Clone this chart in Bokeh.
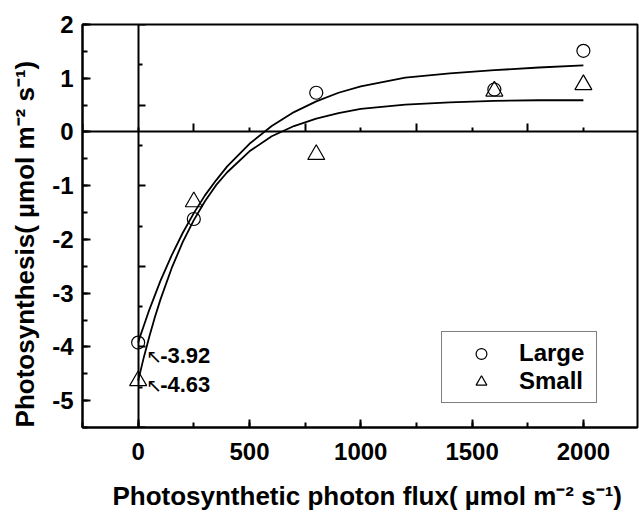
from bokeh.plotting import figure
from bokeh.models import (LinearAxis, FixedTicker, SingleIntervalTicker, Range1d,
                          Legend, LegendItem)
from bokeh.core.properties import value
from bokeh.embed import file_html
from bokeh.resources import INLINE

# ---- data ----
ppfd = [0, 250, 800, 1600, 2000]
large = [-3.92, -1.62, 0.73, 0.79, 1.51]
small = [-4.63, -1.30, -0.42, 0.76, 0.88]

fit_x = [0, 10, 25, 50, 75, 100, 150, 200, 250, 300, 350, 400, 500, 600,
         700, 800, 900, 1000, 1200, 1400, 1600, 1800, 2000]
large_fit = [-3.92, -3.79, -3.61, -3.31, -3.04, -2.77, -2.30, -1.88, -1.51,
             -1.18, -0.90, -0.64, -0.22, 0.11, 0.37, 0.57, 0.73, 0.85, 1.01,
             1.09, 1.15, 1.20, 1.24]
small_fit = [-4.63, -4.46, -4.20, -3.81, -3.45, -3.12, -2.54, -2.05, -1.64,
             -1.29, -0.99, -0.75, -0.36, -0.08, 0.11, 0.25, 0.35, 0.43, 0.51,
             0.55, 0.58, 0.59, 0.59]

ann_values = [-3.92, -4.63]
ann_labels = ["-3.92", "-4.63"]

y_ticks = [2, 1, 0, -1, -2, -3, -4, -5]
y_tick_labels = ["2", "1", "0", "-1", "-2", "-3", "-4", "-5"]

zero_y_major = [2, 0.5, -1, -2.5, -4, -5.5]
zero_y_minor = [1.25, -0.25, -1.75, -3.25, -4.75]
zero_x_major = [-250, 250, 750, 1250, 1750, 2250]
zero_x_minor = [0, 500, 1000, 1500, 2000]

x_title = "Photosynthetic photon flux( µmol m⁻² s⁻¹)"
y_title = "Photosynthesis( µmol m⁻² s⁻¹)"

FONT = "Liberation Sans"
NB = "\u00a0"

p = figure(width=639, height=513, x_range=Range1d(-250, 2243), y_range=Range1d(-5.5, 2),
           output_backend="svg", toolbar_location=None,
           min_border_left=82, min_border_right=2, min_border_top=24, min_border_bottom=82)
p.xgrid.visible = False
p.ygrid.visible = False
p.outline_line_color = "black"
p.outline_line_width = 2
p.background_fill_color = "white"
p.border_fill_color = "white"

p.xaxis.ticker = SingleIntervalTicker(interval=500, num_minor_ticks=2)
p.yaxis.ticker = SingleIntervalTicker(interval=1, num_minor_ticks=2)
p.yaxis.major_label_overrides = {float(t): s for t, s in zip(y_ticks, y_tick_labels)}
for ax in (p.xaxis[0], p.yaxis[0]):
    ax.axis_line_width = 2
    ax.axis_line_color = "black"
    ax.major_tick_in = 8
    ax.major_tick_out = 0
    ax.minor_tick_in = 5
    ax.minor_tick_out = 0
    ax.major_tick_line_width = 2
    ax.minor_tick_line_width = 2
    ax.major_label_text_font = FONT
    ax.major_label_text_font_style = "bold"
    ax.major_label_text_font_size = "24px"
    ax.major_label_text_color = "black"
    ax.axis_label_text_font = FONT
    ax.axis_label_text_font_style = "bold"
    ax.axis_label_text_font_size = "26px"
    ax.axis_label_text_color = "black"

p.xaxis.axis_label = NB * 2 + x_title
p.yaxis.axis_label = y_title + NB * 5
p.xaxis.major_label_standoff = 15
p.yaxis.major_label_standoff = 9
p.xaxis.axis_label_standoff = 18
p.yaxis.axis_label_standoff = 9

# zero lines with their own ticks
zy = LinearAxis(fixed_location=0,
                ticker=FixedTicker(ticks=zero_y_major, minor_ticks=zero_y_minor),
                major_tick_in=7, major_tick_out=0, minor_tick_in=4, minor_tick_out=0,
                major_tick_line_width=2, minor_tick_line_width=2,
                axis_line_width=2, major_label_text_font_size="0px",
                major_label_text_alpha=0, major_label_standoff=0)
zx = LinearAxis(fixed_location=0,
                ticker=FixedTicker(ticks=zero_x_major, minor_ticks=zero_x_minor),
                major_tick_in=8, major_tick_out=0, minor_tick_in=4, minor_tick_out=0,
                major_tick_line_width=2, minor_tick_line_width=2,
                axis_line_width=2, major_label_text_font_size="0px",
                major_label_text_alpha=0, major_label_standoff=0)
p.add_layout(zy, "left")
p.add_layout(zx, "below")

# fitted curves
p.line(fit_x, large_fit, line_color="black", line_width=1.8)
p.line(fit_x, small_fit, line_color="black", line_width=1.8)

rc = p.scatter(ppfd, large, marker="circle", size=13, fill_color=None,
               line_color="black", line_width=1.2)
rt = p.scatter(ppfd, small, marker="triangle", size=17, fill_color=None,
               line_color="black", line_width=1.2)

# annotations
for v, lab, yo in zip(ann_values, ann_labels, [13, 4]):
    p.text(x=[0], y=[v], text=["↖"], x_offset=8, y_offset=yo,
           text_font=value("DejaVu Sans"), text_font_style="normal",
           text_font_size="19px", text_baseline="middle", text_align="left",
           text_color="black")
    p.text(x=[0], y=[v], text=[lab], x_offset=22, y_offset=yo,
           text_font=value(FONT), text_font_style="bold",
           text_font_size="22px", text_baseline="middle", text_align="left",
           text_color="black")

legend = Legend(items=[LegendItem(label="Large", renderers=[rc]),
                       LegendItem(label="Small", renderers=[rt])],
                location=(359, 24), orientation="vertical",
                padding=7, spacing=0, margin=0,
                glyph_width=64, glyph_height=27, label_height=27,
                label_width=70, label_standoff=6,
                label_text_font=FONT, label_text_font_style="bold",
                label_text_font_size="24px", label_text_color="black",
                border_line_color="black", border_line_width=1,
                background_fill_color="white", background_fill_alpha=1)
p.add_layout(legend)

open("out.html", "w").write(file_html(p, INLINE))
